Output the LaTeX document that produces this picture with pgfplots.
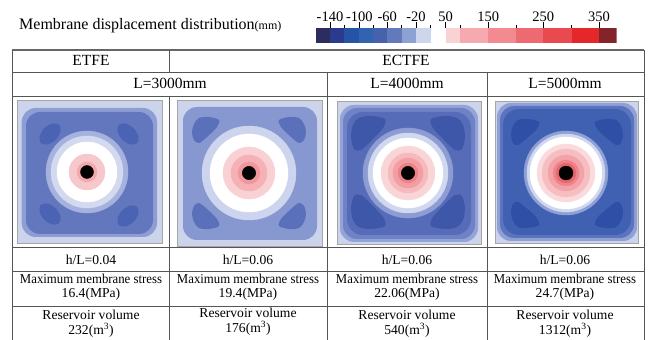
\documentclass[border=0pt]{standalone}
\usepackage{fontspec}
\setmainfont{Liberation Serif}
\usepackage{pgfplots}
\pgfplotsset{compat=1.18}
\definecolor{c1}{HTML}{2B2D5E}
\definecolor{c2}{HTML}{2A3A8E}
\definecolor{c3}{HTML}{2553A6}
\definecolor{c4}{HTML}{3263B1}
\definecolor{c5}{HTML}{4762AD}
\definecolor{c6}{HTML}{6479BC}
\definecolor{c7}{HTML}{8EA1D3}
\definecolor{c8}{HTML}{CCD6EC}
\definecolor{c9}{HTML}{FFFFFF}
\definecolor{c10}{HTML}{F9D2D4}
\definecolor{c11}{HTML}{F6AAB0}
\definecolor{c12}{HTML}{F18A91}
\definecolor{c13}{HTML}{EC6A70}
\definecolor{c14}{HTML}{E84A4F}
\definecolor{c15}{HTML}{E4282A}
\definecolor{c16}{HTML}{84242A}
\definecolor{bgl}{HTML}{CCD4EC}
\definecolor{tline}{HTML}{555555}
\newcommand\ft{\fontsize{15.5}{18}\selectfont}
\newcommand\fs{\fontsize{13.6}{15}\selectfont}
\newcommand\tn[3]{\node[anchor=base, inner sep=0pt] at (#1pt,#2pt) {#3};}
\newcommand\ms{\scalebox{0.94}[1]{Maximum membrane stress}}
\pgfplotsset{panel/.style={anchor=north west, scale only axis, hide axis, y dir=reverse, xmin=0, ymin=0, clip=true}}
\begin{document}
\begin{tikzpicture}
\path[use as bounding box] (0pt,0pt) rectangle (657pt,340pt);
% ---------- colour bar ----------
\begin{axis}[at={(315.7pt,297pt)}, anchor=south west, scale only axis, width=301pt, height=15pt,
  xmin=315.7, xmax=616.7, ymin=0, ymax=1, axis x line*=top, axis y line=none,
  axis line style={draw=none}, ytick=\empty,
  xtick={330,359.3,387.3,416,445.7,488.3,543.3,599},
  xticklabels={-140,-100,-60,-20,50,150,250,350},
  minor xtick={344.3,373.3,401.7,430.7,460,516,571.7},
  tick align=outside, major tick length=5.5pt, minor tick length=3pt,
  tick style={black, line width=0.5pt},
  xticklabel style={font=\fontsize{14.5}{14}\selectfont, inner sep=0.5pt}]
\addplot[fill=c1,draw=none] coordinates {(315.7,0)(330,0)(330,1)(315.7,1)} -- cycle;
\addplot[fill=c2,draw=none] coordinates {(330,0)(344.3,0)(344.3,1)(330,1)} -- cycle;
\addplot[fill=c3,draw=none] coordinates {(344.3,0)(359.3,0)(359.3,1)(344.3,1)} -- cycle;
\addplot[fill=c4,draw=none] coordinates {(359.3,0)(373.3,0)(373.3,1)(359.3,1)} -- cycle;
\addplot[fill=c5,draw=none] coordinates {(373.3,0)(387.3,0)(387.3,1)(373.3,1)} -- cycle;
\addplot[fill=c6,draw=none] coordinates {(387.3,0)(401.7,0)(401.7,1)(387.3,1)} -- cycle;
\addplot[fill=c7,draw=none] coordinates {(401.7,0)(416,0)(416,1)(401.7,1)} -- cycle;
\addplot[fill=c8,draw=none] coordinates {(416,0)(430.7,0)(430.7,1)(416,1)} -- cycle;
\addplot[fill=c9,draw=none] coordinates {(430.7,0)(445.7,0)(445.7,1)(430.7,1)} -- cycle;
\addplot[fill=c10,draw=none] coordinates {(445.7,0)(460,0)(460,1)(445.7,1)} -- cycle;
\addplot[fill=c11,draw=none] coordinates {(460,0)(488.3,0)(488.3,1)(460,1)} -- cycle;
\addplot[fill=c12,draw=none] coordinates {(488.3,0)(516,0)(516,1)(488.3,1)} -- cycle;
\addplot[fill=c13,draw=none] coordinates {(516,0)(543.3,0)(543.3,1)(516,1)} -- cycle;
\addplot[fill=c14,draw=none] coordinates {(543.3,0)(571.7,0)(571.7,1)(543.3,1)} -- cycle;
\addplot[fill=c15,draw=none] coordinates {(571.7,0)(599,0)(599,1)(571.7,1)} -- cycle;
\addplot[fill=c16,draw=none] coordinates {(599,0)(616.7,0)(616.7,1)(599,1)} -- cycle;
\end{axis}
\node[anchor=base west, inner sep=0pt] at (19pt,310pt) {\fontsize{16}{18}\selectfont Membrane displacement distribution{\fontsize{12}{12}\selectfont(mm)}};
% ---------- panel 1 ----------
\begin{axis}[panel, at={(17pt,240pt)}, width=145pt, height=143pt, xmax=145, ymax=143]
\addplot[fill=bgl,draw=none] coordinates {(0,0)(145,0)(145,143)(0,143)} -- cycle;
\addplot[fill={rgb,255:red,142;green,157;blue,211},draw=none,rounded corners=14pt] coordinates {(4.7,8)(140,8)(140,137)(4.7,137)} -- cycle;
\addplot[fill={rgb,255:red,99;green,119;blue,190},draw=none,rounded corners=14pt] coordinates {(9,12)(136,12)(136,134)(9,134)} -- cycle;
\addplot[fill={rgb,255:red,75;green,99;blue,179},draw=none,smooth cycle] coordinates {(42.2,24.8)(43.5,31.5)(38.7,39.7)(30.5,44.5)(23.8,43.2)(22.5,36.5)(27.3,28.3)(35.5,23.5)};
\addplot[fill={rgb,255:red,75;green,99;blue,179},draw=none,smooth cycle] coordinates {(101.8,24.8)(100.5,31.5)(105.3,39.7)(113.5,44.5)(120.2,43.2)(121.5,36.5)(116.7,28.3)(108.5,23.5)};
\addplot[fill={rgb,255:red,75;green,99;blue,179},draw=none,smooth cycle] coordinates {(42.2,123.2)(43.5,116.5)(38.7,108.3)(30.5,103.5)(23.8,104.8)(22.5,111.5)(27.3,119.7)(35.5,124.5)};
\addplot[fill={rgb,255:red,75;green,99;blue,179},draw=none,smooth cycle] coordinates {(101.8,125.2)(100.5,118.5)(105.3,110.3)(113.5,105.5)(120.2,106.8)(121.5,113.5)(116.7,121.7)(108.5,126.5)};
\addplot[only marks, mark=*, mark size=41pt, color={rgb,255:red,166;green,178;blue,222}] coordinates {(70,72)};
\addplot[only marks, mark=*, mark size=36pt, color={rgb,255:red,211;green,218;blue,240}] coordinates {(70,72)};
\addplot[only marks, mark=*, mark size=30pt, color=white] coordinates {(70,72)};
\addplot[only marks, mark=*, mark size=18pt, color={rgb,255:red,247;green,200;blue,203}] coordinates {(70,72)};
\addplot[only marks, mark=*, mark size=10pt, color={rgb,255:red,242;green,168;blue,173}] coordinates {(70,72)};
\addplot[only marks, mark=*, mark size=6.5pt, color=black] coordinates {(70,72)};
\addplot[color=gray!60, line width=0.4pt] coordinates {(66,68)(74,76)};
\addplot[color=gray!60, line width=0.4pt] coordinates {(66,76)(74,68)};
\end{axis}
% ---------- panel 2 ----------
\begin{axis}[panel, at={(177pt,240pt)}, width=145pt, height=146pt, xmax=145, ymax=146]
\addplot[fill=bgl,draw=none] coordinates {(0,0)(145,0)(145,146)(0,146)} -- cycle;
\addplot[fill={rgb,255:red,135;green,151;blue,207},draw=none,rounded corners=14pt] coordinates {(6,7)(140,7)(140,140)(6,140)} -- cycle;
\addplot[fill={rgb,255:red,91;green,112;blue,187},draw=none,smooth cycle] coordinates {(17,24)(22,18)(32,17)(42,20)(40,27)(30,37)(22,43)(17,40)(15,32)};
\addplot[fill={rgb,255:red,91;green,112;blue,187},draw=none,smooth cycle] coordinates {(127,24)(122,18)(112,17)(102,20)(104,27)(114,37)(122,43)(127,40)(129,32)};
\addplot[fill={rgb,255:red,91;green,112;blue,187},draw=none,smooth cycle] coordinates {(17,122)(22,128)(32,129)(42,126)(40,119)(30,109)(22,103)(17,106)(15,114)};
\addplot[fill={rgb,255:red,91;green,112;blue,187},draw=none,smooth cycle] coordinates {(127,122)(122,128)(112,129)(102,126)(104,119)(114,109)(122,103)(127,106)(129,114)};
\addplot[only marks, mark=*, mark size=47pt, color={rgb,255:red,205;green,213;blue,238}] coordinates {(72,73)};
\addplot[only marks, mark=*, mark size=39pt, color=white] coordinates {(72,73)};
\addplot[only marks, mark=*, mark size=26pt, color={rgb,255:red,249;green,208;blue,211}] coordinates {(72,73)};
\addplot[only marks, mark=*, mark size=18pt, color={rgb,255:red,245;green,177;blue,181}] coordinates {(72,73)};
\addplot[only marks, mark=*, mark size=11pt, color={rgb,255:red,240;green,151;blue,156}] coordinates {(72,73)};
\addplot[only marks, mark=*, mark size=6.7pt, color=black] coordinates {(72,73)};
\addplot[color=gray!60, line width=0.4pt] coordinates {(68,69)(76,77)};
\addplot[color=gray!60, line width=0.4pt] coordinates {(68,77)(76,69)};
\end{axis}
% ---------- panel 3 ----------
\begin{axis}[panel, at={(337pt,239pt)}, width=144pt, height=143pt, xmax=144, ymax=143]
\addplot[fill=bgl,draw=none] coordinates {(0,0)(144,0)(144,143)(0,143)} -- cycle;
\addplot[fill={rgb,255:red,149;green,164;blue,214},draw=none,rounded corners=14pt] coordinates {(3,4)(141,4)(141,141)(3,141)} -- cycle;
\addplot[fill={rgb,255:red,110;green,130;blue,197},draw=none,rounded corners=14pt] coordinates {(6,7)(138,7)(138,138)(6,138)} -- cycle;
\addplot[fill={rgb,255:red,86;green,108;blue,185},draw=none,rounded corners=16pt] coordinates {(10,11)(134,11)(134,134)(10,134)} -- cycle;
\addplot[fill={rgb,255:red,63;green,87;blue,169},draw=none,smooth cycle] coordinates {(16,24)(22,17)(34,15)(48,18)(46,27)(34,40)(24,49)(17,48)(14,36)};
\addplot[fill={rgb,255:red,63;green,87;blue,169},draw=none,smooth cycle] coordinates {(126,24)(120,17)(108,15)(94,18)(96,27)(108,40)(118,49)(125,48)(128,36)};
\addplot[fill={rgb,255:red,63;green,87;blue,169},draw=none,smooth cycle] coordinates {(16,119)(22,126)(34,128)(48,125)(46,116)(34,103)(24,94)(17,95)(14,107)};
\addplot[fill={rgb,255:red,63;green,87;blue,169},draw=none,smooth cycle] coordinates {(126,119)(120,126)(108,128)(94,125)(96,116)(108,103)(118,94)(125,95)(128,107)};
\addplot[only marks, mark=*, mark size=45pt, color={rgb,255:red,141;green,157;blue,211}] coordinates {(71,72)};
\addplot[only marks, mark=*, mark size=40pt, color={rgb,255:red,208;green,216;blue,239}] coordinates {(71,72)};
\addplot[only marks, mark=*, mark size=35pt, color=white] coordinates {(71,72)};
\addplot[only marks, mark=*, mark size=27pt, color={rgb,255:red,249;green,213;blue,215}] coordinates {(71,72)};
\addplot[only marks, mark=*, mark size=20pt, color={rgb,255:red,246;green,185;blue,189}] coordinates {(71,72)};
\addplot[only marks, mark=*, mark size=15pt, color={rgb,255:red,242;green,158;blue,163}] coordinates {(71,72)};
\addplot[only marks, mark=*, mark size=10pt, color={rgb,255:red,236;green,130;blue,136}] coordinates {(71,72)};
\addplot[only marks, mark=*, mark size=6.7pt, color=black] coordinates {(71,72)};
\addplot[color=gray!60, line width=0.4pt] coordinates {(67,68)(75,76)};
\addplot[color=gray!60, line width=0.4pt] coordinates {(67,76)(75,68)};
\end{axis}
% ---------- panel 4 ----------
\begin{axis}[panel, at={(495pt,239pt)}, width=143pt, height=142pt, xmax=143, ymax=142]
\addplot[fill=bgl,draw=none] coordinates {(0,0)(143,0)(143,142)(0,142)} -- cycle;
\addplot[fill={rgb,255:red,143;green,160;blue,212},draw=none,rounded corners=14pt] coordinates {(2,2)(142,2)(142,140)(2,140)} -- cycle;
\addplot[fill={rgb,255:red,92;green,115;blue,189},draw=none,rounded corners=14pt] coordinates {(5,5)(139,5)(139,137)(5,137)} -- cycle;
\addplot[fill={rgb,255:red,64;green,96;blue,177},draw=none,rounded corners=16pt] coordinates {(8,8)(136,8)(136,134)(8,134)} -- cycle;
\addplot[fill={rgb,255:red,46;green,79;blue,165},draw=none,smooth cycle] coordinates {(18,25)(23,19)(33,18)(44,21)(41,29)(31,38)(23,44)(18,42)(16,33)};
\addplot[fill={rgb,255:red,46;green,79;blue,165},draw=none,smooth cycle] coordinates {(126,25)(121,19)(111,18)(100,21)(103,29)(113,38)(121,44)(126,42)(128,33)};
\addplot[fill={rgb,255:red,46;green,79;blue,165},draw=none,smooth cycle] coordinates {(18,120)(23,126)(33,127)(44,124)(41,116)(31,107)(23,101)(18,103)(16,112)};
\addplot[fill={rgb,255:red,46;green,79;blue,165},draw=none,smooth cycle] coordinates {(126,120)(121,126)(111,127)(100,124)(103,116)(113,107)(121,101)(126,103)(128,112)};
\addplot[only marks, mark=*, mark size=42pt, color={rgb,255:red,142;green,160;blue,214}] coordinates {(71,72)};
\addplot[only marks, mark=*, mark size=39pt, color={rgb,255:red,208;green,216;blue,240}] coordinates {(71,72)};
\addplot[only marks, mark=*, mark size=36pt, color=white] coordinates {(71,72)};
\addplot[only marks, mark=*, mark size=29pt, color={rgb,255:red,250;green,218;blue,221}] coordinates {(71,72)};
\addplot[only marks, mark=*, mark size=24pt, color={rgb,255:red,247;green,190;blue,194}] coordinates {(71,72)};
\addplot[only marks, mark=*, mark size=18pt, color={rgb,255:red,243;green,162;blue,167}] coordinates {(71,72)};
\addplot[only marks, mark=*, mark size=13pt, color={rgb,255:red,238;green,132;blue,139}] coordinates {(71,72)};
\addplot[only marks, mark=*, mark size=10pt, color={rgb,255:red,232;green,103;blue,110}] coordinates {(71,72)};
\addplot[only marks, mark=*, mark size=7pt, color=black] coordinates {(71,72)};
\addplot[color=gray!60, line width=0.4pt] coordinates {(67,68)(75,76)};
\addplot[color=gray!60, line width=0.4pt] coordinates {(67,76)(75,68)};
\end{axis}
% ---------- image frames ----------
\draw[gray!70, line width=0.5pt] (17pt,240pt) rectangle (162pt,97pt);
\draw[gray!70, line width=0.5pt] (177pt,240pt) rectangle (322pt,94pt);
\draw[gray!70, line width=0.5pt] (337pt,239pt) rectangle (481pt,96pt);
\draw[gray!70, line width=0.5pt] (495pt,239pt) rectangle (638pt,97pt);
% ---------- table lines ----------
\draw[gray!80!black, line width=1.1pt] (12pt,290pt) -- (644pt,290pt);
\begin{scope}[tline, line width=0.9pt]
\draw (12pt,268pt) -- (644pt,268pt);
\draw (12pt,244pt) -- (644pt,244pt);
\draw (12pt,93pt) -- (644pt,93pt);
\draw (12pt,69pt) -- (644pt,69pt);
\draw (12pt,34pt) -- (644pt,34pt);
\draw (12pt,290pt) -- (12pt,0pt);
\draw (644pt,290pt) -- (644pt,0pt);
\draw (169pt,290pt) -- (169pt,268pt);
\draw (169pt,244pt) -- (169pt,0pt);
\draw (327pt,268pt) -- (327pt,0pt);
\draw (487pt,268pt) -- (487pt,0pt);
\end{scope}
% ---------- table text ----------
\tn{91}{274}{\ft ETFE}
\tn{406}{274}{\ft ECTFE}
\tn{170}{251.7}{\ft L=3000mm}
\tn{407}{251.7}{\ft L=4000mm}
\tn{565}{251.7}{\ft L=5000mm}
\tn{91}{75}{\fs h/L=0.04}
\tn{248}{75}{\fs h/L=0.06}
\tn{407}{75}{\fs h/L=0.06}
\tn{565}{75}{\fs h/L=0.06}
\tn{91}{56}{\fs\ms}
\tn{248}{56}{\fs\ms}
\tn{407}{56}{\fs\ms}
\tn{565}{56}{\fs\ms}
\tn{91}{42}{\fs 16.4(MPa)}
\tn{248}{42}{\fs 19.4(MPa)}
\tn{407}{42}{\fs 22.06(MPa)}
\tn{565}{42}{\fs 24.7(MPa)}
\tn{91}{20}{\fs Reservoir volume}
\tn{248}{22.5}{\fs Reservoir volume}
\tn{407}{20}{\fs Reservoir volume}
\tn{565}{20}{\fs Reservoir volume}
\tn{91}{5}{\fs 232(m\textsuperscript{3})}
\tn{248}{7.5}{\fs 176(m\textsuperscript{3})}
\tn{407}{5}{\fs 540(m\textsuperscript{3})}
\tn{565}{5}{\fs 1312(m\textsuperscript{3})}
\end{tikzpicture}
\end{document}
